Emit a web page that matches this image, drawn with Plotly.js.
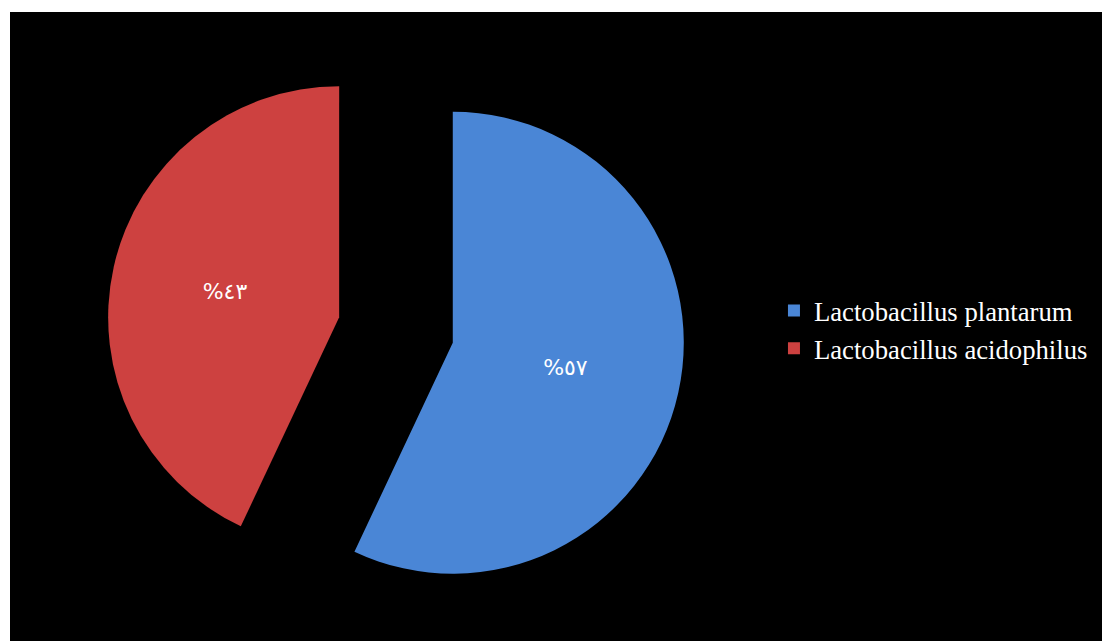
<!DOCTYPE html>
<html>
<head>
<meta charset="utf-8">
<script src="https://cdn.plot.ly/plotly-3.0.1.min.js"></script>
<style>
  html, body { margin: 0; padding: 0; background: #ffffff; }
  #chart { position: absolute; left: 10px; top: 12px; width: 1092px; height: 629px; }
</style>
</head>
<body>
<div id="chart"></div>
<script>
// Data
const labels = ['Lactobacillus plantarum', 'Lactobacillus acidophilus'];
const values = [57, 43];
const colors = ['#4a86d6', '#cd4140'];

function toArabicIndic(n) {
  const digits = ['٠','١','٢','٣','٤','٥','٦','٧','٨','٩'];
  return String(n).split('').map(d => digits[+d]).join('');
}
const sliceText = values.map(v => '%' + toArabicIndic(v));

const trace = {
  type: 'pie',
  labels: labels,
  values: values,
  text: sliceText,
  textinfo: 'text',
  textposition: 'inside',
  insidetextorientation: 'horizontal',
  textfont: { family: 'DejaVu Sans, sans-serif', size: 22, color: '#ffffff' },
  sort: false,
  direction: 'clockwise',
  rotation: 0,
  pull: [0.252, 0.252],
  marker: { colors: colors, line: { width: 0 } },
  domain: { x: [0.0886, 0.6183], y: [0.0346, 0.9542] },
  hoverinfo: 'label+percent'
};

const layout = {
  width: 1092,
  height: 629,
  paper_bgcolor: '#000000',
  plot_bgcolor: '#000000',
  margin: { l: 0, r: 0, t: 0, b: 0 },
  showlegend: true,
  legend: {
    x: 0.6996,
    xanchor: 'left',
    y: 0.495,
    yanchor: 'middle',
    bgcolor: 'rgba(0,0,0,0)',
    itemwidth: 30,
    font: { family: 'Liberation Serif, serif', size: 26.7, color: '#ffffff' }
  }
};

Plotly.newPlot('chart', [trace], layout, { displayModeBar: false, staticPlot: true });
</script>
</body>
</html>
